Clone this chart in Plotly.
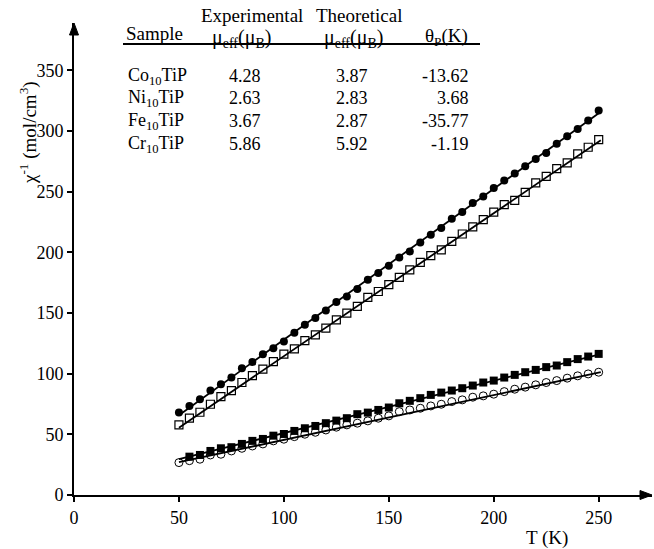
import plotly.graph_objects as go

# ---------------- data ----------------
T_all = [50, 55, 60, 65, 70, 75, 80, 85, 90, 95, 100, 105, 110, 115, 120, 125, 130, 135, 140, 145,
         150, 155, 160, 165, 170, 175, 180, 185, 190, 195, 200, 205, 210, 215, 220, 225, 230, 235,
         240, 245, 250]
T_from55 = T_all[1:]

# filled circles
filled_circle = [67.9, 73.4, 79.0, 86.1, 91.3, 96.8, 104.5, 109.7, 116.1, 121.0, 126.5, 133.7, 140.3,
                 145.8, 152.1, 159.0, 163.6, 169.7, 177.4, 182.9, 188.9, 195.8, 200.7, 208.2, 214.5,
                 220.0, 227.6, 233.2, 240.7, 246.1, 253.0, 259.1, 264.9, 270.9, 277.0, 281.9, 289.4,
                 295.6, 301.7, 308.6, 316.8]
# open squares
open_square = [57.8, 63.3, 68.2, 74.8, 81.1, 86.1, 92.7, 98.4, 103.7, 110.0, 116.1, 120.5, 127.3,
               132.0, 137.5, 144.4, 149.9, 155.4, 162.8, 167.7, 173.3, 179.3, 185.6, 191.7, 197.2,
               202.1, 209.0, 215.1, 220.9, 226.9, 233.2, 239.3, 242.8, 249.4, 257.2, 262.6, 269.0,
               273.7, 281.1, 286.6, 292.9]
# filled squares (start at 55 K)
filled_square = [31.6, 33.0, 36.3, 38.5, 39.4, 42.1, 44.6, 46.2, 48.9, 50.3, 52.8, 55.0, 56.9, 59.2,
                 61.3, 63.3, 66.6, 67.9, 70.1, 72.1, 75.6, 77.6, 79.8, 82.5, 84.4, 86.1, 88.0, 90.2,
                 92.7, 94.3, 96.8, 99.0, 101.2, 103.1, 105.4, 106.7, 109.5, 112.0, 114.1, 116.3]
# open circles
open_circle = [26.7, 28.3, 29.5, 33.0, 33.6, 36.3, 38.5, 40.4, 42.1, 44.6, 46.0, 48.1, 50.1, 51.7,
               53.6, 55.9, 57.8, 59.2, 61.1, 63.3, 65.2, 68.7, 70.1, 71.5, 73.4, 74.8, 77.0, 78.4,
               80.6, 81.7, 83.1, 85.2, 87.2, 88.9, 90.8, 92.7, 94.3, 96.3, 98.2, 99.8, 101.2]

# Curie-Weiss fit lines (end points)
fit_T = [50, 251]
fit_filled_circle = [65.8, 315.8]
fit_open_square = [55.5, 292.3]
fit_filled_square = [29.5, 116.2]
fit_open_circle = [27.0, 101.2]

# inset table
tbl_samples = ["Co<sub>10</sub>TiP", "Ni<sub>10</sub>TiP", "Fe<sub>10</sub>TiP", "Cr<sub>10</sub>TiP"]
tbl_exp = ["4.28", "2.63", "3.67", "5.86"]
tbl_theo = ["3.87", "2.83", "2.87", "5.92"]
tbl_theta = ["-13.62", "3.68", "-35.77", "-1.19"]

x_ticks = [0, 50, 100, 150, 200, 250]
y_ticks = [0, 50, 100, 150, 200, 250, 300, 350]

# ---------------- figure ----------------
W, H = 654, 549
ML, MR, MT, MB = 74, 2, 23, 54
PW, PH = W - ML - MR, H - MT - MB
FONT = "Liberation Serif, Times New Roman, DejaVu Serif, serif"


def px(xp):
    return (xp - ML) / PW


def py(yp):
    return (H - MB - yp) / PH


fig = go.Figure()
for yv in [fit_filled_circle, fit_open_square, fit_filled_square, fit_open_circle]:
    fig.add_trace(go.Scatter(x=fit_T, y=yv, mode="lines",
                             line=dict(color="black", width=1.8), hoverinfo="skip"))

fig.add_trace(go.Scatter(x=T_all, y=open_square, mode="markers",
                         marker=dict(symbol="square-open", size=8, color="black",
                                     line=dict(width=1.2, color="black"))))
fig.add_trace(go.Scatter(x=T_all, y=open_circle, mode="markers",
                         marker=dict(symbol="circle-open", size=8, color="black",
                                     line=dict(width=1.0, color="black"))))
fig.add_trace(go.Scatter(x=T_all, y=filled_circle, mode="markers",
                         marker=dict(symbol="circle", size=8, color="black")))
fig.add_trace(go.Scatter(x=T_from55, y=filled_square, mode="markers",
                         marker=dict(symbol="square", size=8, color="black")))

axis_common = dict(showgrid=False, zeroline=False, showline=True, linecolor="black", linewidth=2,
                   ticks="outside", ticklen=5, tickwidth=1.5, tickcolor="black",
                   tickfont=dict(family=FONT, size=18, color="black"))

fig.update_xaxes(range=[0, 275.4], tickvals=x_ticks, **axis_common)
fig.update_yaxes(range=[0, 389], tickvals=y_ticks, **axis_common)

ann = []
# axis titles
ann.append(dict(x=px(28), y=py(133), xref="paper", yref="paper", showarrow=False,
                text="χ<sup>-1</sup> (mol/cm<sup>3</sup>)", textangle=-90,
                font=dict(family=FONT, size=19, color="black"), xanchor="center", yanchor="middle"))
ann.append(dict(x=px(547), y=py(538), xref="paper", yref="paper", showarrow=False,
                text="T (K)", font=dict(family=FONT, size=19, color="black"),
                xanchor="center", yanchor="middle"))

hfont = dict(family=FONT, size=19, color="black")
mufont = dict(family=FONT, size=20, color="black")
bfont = dict(family=FONT, size=18, color="black")
ann.append(dict(x=px(154), y=py(33), xref="paper", yref="paper", showarrow=False, text="Sample",
                font=hfont, xanchor="center", yanchor="middle"))
ann.append(dict(x=px(252), y=py(15), xref="paper", yref="paper", showarrow=False, text="Experimental",
                font=hfont, xanchor="center", yanchor="middle"))
ann.append(dict(x=px(241), y=py(38), xref="paper", yref="paper", showarrow=False,
                text="μ<sub>eff</sub>(μ<sub>B</sub>)", font=mufont, xanchor="center", yanchor="middle"))
ann.append(dict(x=px(359), y=py(15), xref="paper", yref="paper", showarrow=False, text="Theoretical",
                font=hfont, xanchor="center", yanchor="middle"))
ann.append(dict(x=px(353), y=py(38), xref="paper", yref="paper", showarrow=False,
                text="μ<sub>eff</sub>(μ<sub>B</sub>)", font=mufont, xanchor="center", yanchor="middle"))
ann.append(dict(x=px(470), y=py(37), xref="paper", yref="paper", showarrow=False,
                text="θ<sub>P</sub>(K)", font=hfont, xanchor="right", yanchor="middle"))

row_y = [76, 98, 121, 144]
for i in range(4):
    ann.append(dict(x=px(126), y=py(row_y[i]), xref="paper", yref="paper", showarrow=False,
                    text=tbl_samples[i], font=bfont, xanchor="left", yanchor="middle"))
    ann.append(dict(x=px(245), y=py(row_y[i]), xref="paper", yref="paper", showarrow=False,
                    text=tbl_exp[i], font=bfont, xanchor="center", yanchor="middle"))
    ann.append(dict(x=px(352), y=py(row_y[i]), xref="paper", yref="paper", showarrow=False,
                    text=tbl_theo[i], font=bfont, xanchor="center", yanchor="middle"))
    ann.append(dict(x=px(471), y=py(row_y[i]), xref="paper", yref="paper", showarrow=False,
                    text=tbl_theta[i], font=bfont, xanchor="right", yanchor="middle"))

# table rule and axis arrowheads (in paper coords)
shapes = [dict(type="line", xref="paper", yref="paper", x0=px(123), x1=px(480), y0=py(44), y1=py(44),
               line=dict(color="black", width=2)),
          dict(type="path", xref="paper", yref="paper",
               path=f"M {px(W - MR - 12)} {py(H - MB - 4.5)} L {px(W - MR)} {py(H - MB)} "
                    f"L {px(W - MR - 12)} {py(H - MB + 4.5)} Z",
               fillcolor="black", line=dict(color="black", width=1)),
          dict(type="path", xref="paper", yref="paper",
               path=f"M {px(ML - 4.5)} {py(MT + 12)} L {px(ML)} {py(MT)} "
                    f"L {px(ML + 4.5)} {py(MT + 12)} Z",
               fillcolor="black", line=dict(color="black", width=1))]

fig.update_layout(width=W, height=H, margin=dict(l=ML, r=MR, t=MT, b=MB),
                  paper_bgcolor="white", plot_bgcolor="white", showlegend=False,
                  annotations=ann, shapes=shapes)

fig.write_html("out.html")
